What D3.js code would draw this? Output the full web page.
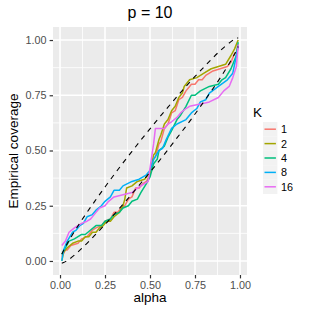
<!DOCTYPE html>
<html>
<head>
<meta charset="utf-8">
<script src="https://cdn.jsdelivr.net/npm/d3@7"></script>
<style>
  body { margin: 0; background: #fff; }
  svg { display: block; font-family: "Liberation Sans", Arial, sans-serif; }
</style>
</head>
<body>
<div id="chart"></div>
<script>
/* DATA */
const alphaBand = [0.01, 0.02, 0.03, 0.05, 0.10, 0.15, 0.20, 0.25, 0.30, 0.35, 0.40, 0.45, 0.50,
                   0.55, 0.60, 0.65, 0.70, 0.75, 0.80, 0.85, 0.90, 0.95, 0.97, 0.98, 0.99];
const bandUpper = [0.030, 0.047, 0.063, 0.093, 0.159, 0.220, 0.278, 0.335, 0.390, 0.444, 0.496, 0.548, 0.598,
                   0.648, 0.696, 0.744, 0.790, 0.835, 0.878, 0.920, 0.959, 0.993, 1.003, 1.007, 1.010];
const bandLower = [-0.010, -0.007, -0.003, 0.007, 0.041, 0.080, 0.122, 0.165, 0.210, 0.257, 0.304, 0.353, 0.402,
                   0.452, 0.504, 0.557, 0.610, 0.665, 0.722, 0.780, 0.841, 0.907, 0.937, 0.953, 0.971];

const kLevels = ["1", "2", "4", "8", "16"];
const kColors = ["#F8766D", "#A3A500", "#00BF7D", "#00B0F6", "#E76BF3"];

// empirical coverage per K, [alpha, coverage]
const coverK1 = [[0.01,0.02],[0.03,0.05],[0.04,0.05],[0.06,0.07],[0.10,0.08],[0.12,0.10],[0.15,0.11],
  [0.18,0.14],[0.20,0.15],[0.23,0.16],[0.25,0.18],[0.28,0.19],[0.30,0.22],[0.32,0.22],[0.34,0.24],
  [0.36,0.25],[0.38,0.28],[0.40,0.29],[0.42,0.33],[0.44,0.33],[0.46,0.35],[0.48,0.36],[0.50,0.39],
  [0.52,0.46],[0.53,0.47],[0.55,0.53],[0.56,0.54],[0.58,0.60],[0.60,0.62],[0.62,0.67],[0.64,0.68],
  [0.66,0.73],[0.68,0.74],[0.70,0.77],[0.73,0.80],[0.75,0.80],[0.77,0.82],[0.79,0.82],[0.81,0.84],
  [0.85,0.86],[0.89,0.87],[0.93,0.88],[0.95,0.90],[0.97,0.94],[0.98,0.94],[0.99,0.98]];
const coverK2 = [[0.01,0.00],[0.02,0.04],[0.04,0.06],[0.07,0.08],[0.10,0.09],[0.12,0.09],[0.14,0.11],
  [0.16,0.11],[0.18,0.13],[0.20,0.13],[0.22,0.15],[0.24,0.16],[0.26,0.18],[0.28,0.18],[0.30,0.20],
  [0.33,0.22],[0.35,0.25],[0.36,0.28],[0.37,0.33],[0.40,0.34],[0.43,0.36],[0.47,0.37],[0.50,0.40],
  [0.52,0.48],[0.53,0.49],[0.55,0.55],[0.56,0.57],[0.58,0.62],[0.60,0.64],[0.62,0.68],[0.64,0.70],
  [0.66,0.74],[0.68,0.76],[0.69,0.79],[0.72,0.82],[0.76,0.83],[0.80,0.85],[0.84,0.87],[0.88,0.88],
  [0.92,0.89],[0.95,0.93],[0.97,0.96],[0.99,1.00]];
const coverK4 = [[0.01,0.03],[0.03,0.06],[0.05,0.09],[0.08,0.10],[0.12,0.12],[0.14,0.12],[0.17,0.14],
  [0.20,0.16],[0.23,0.16],[0.25,0.18],[0.28,0.19],[0.30,0.21],[0.33,0.22],[0.35,0.24],[0.38,0.25],
  [0.40,0.27],[0.43,0.28],[0.45,0.31],[0.48,0.35],[0.50,0.38],[0.52,0.44],[0.54,0.46],[0.55,0.50],
  [0.58,0.52],[0.60,0.56],[0.62,0.59],[0.65,0.64],[0.67,0.66],[0.70,0.70],[0.73,0.75],[0.75,0.75],
  [0.78,0.77],[0.83,0.79],[0.88,0.80],[0.90,0.82],[0.92,0.83],[0.95,0.87],[0.98,0.93],[0.99,0.99]];
const coverK8 = [[0.01,0.00],[0.02,0.05],[0.04,0.09],[0.07,0.13],[0.09,0.14],[0.11,0.16],[0.13,0.17],
  [0.15,0.20],[0.18,0.21],[0.20,0.23],[0.23,0.25],[0.25,0.27],[0.28,0.29],[0.30,0.32],[0.33,0.32],
  [0.35,0.34],[0.40,0.36],[0.44,0.37],[0.48,0.39],[0.50,0.41],[0.52,0.46],[0.55,0.50],[0.57,0.51],
  [0.59,0.55],[0.62,0.60],[0.65,0.62],[0.70,0.64],[0.73,0.67],[0.76,0.69],[0.78,0.72],[0.81,0.73],
  [0.83,0.76],[0.88,0.79],[0.93,0.82],[0.96,0.85],[0.98,0.93],[0.99,0.97]];
const coverK16 = [[0.01,0.07],[0.03,0.09],[0.05,0.13],[0.08,0.15],[0.12,0.17],[0.15,0.18],[0.17,0.19],
  [0.20,0.22],[0.22,0.24],[0.25,0.25],[0.27,0.27],[0.30,0.29],[0.35,0.30],[0.40,0.31],[0.43,0.33],
  [0.45,0.34],[0.49,0.36],[0.50,0.42],[0.52,0.53],[0.53,0.60],[0.58,0.60],[0.60,0.62],[0.62,0.63],
  [0.65,0.65],[0.67,0.67],[0.70,0.69],[0.72,0.70],[0.78,0.71],[0.83,0.72],[0.88,0.74],[0.91,0.77],
  [0.94,0.79],[0.96,0.83],[0.98,0.88],[0.99,0.98]];
const coverSeries = [coverK1, coverK2, coverK4, coverK8, coverK16];

const xTicks = [0, 0.25, 0.5, 0.75, 1];
const yTicks = [0, 0.25, 0.5, 0.75, 1];
const minorTicks = [0.125, 0.375, 0.625, 0.875];

/* LAYOUT */
const width = 315, height = 315;
const panel = { left: 53, right: 247, top: 27, bottom: 275 };

const svg = d3.select("#chart").append("svg")
    .attr("width", width)
    .attr("height", height);

const x = d3.scaleLinear().domain([-0.039, 1.039]).range([panel.left, panel.right]);
const y = d3.scaleLinear().domain([-0.0635, 1.059]).range([panel.bottom, panel.top]);

// panel background + grid
svg.append("rect")
    .attr("x", panel.left).attr("y", panel.top)
    .attr("width", panel.right - panel.left)
    .attr("height", panel.bottom - panel.top)
    .attr("fill", "#EBEBEB");

svg.append("clipPath").attr("id", "clip")
  .append("rect")
    .attr("x", panel.left).attr("y", panel.top)
    .attr("width", panel.right - panel.left)
    .attr("height", panel.bottom - panel.top);

const grid = svg.append("g").attr("stroke", "#fff");
minorTicks.forEach(t => {
    grid.append("line").attr("x1", x(t)).attr("x2", x(t))
        .attr("y1", panel.top).attr("y2", panel.bottom).attr("stroke-width", 0.8);
    grid.append("line").attr("y1", y(t)).attr("y2", y(t))
        .attr("x1", panel.left).attr("x2", panel.right).attr("stroke-width", 0.8);
});
xTicks.forEach(t => {
    grid.append("line").attr("x1", x(t)).attr("x2", x(t))
        .attr("y1", panel.top).attr("y2", panel.bottom).attr("stroke-width", 1.6);
});
yTicks.forEach(t => {
    grid.append("line").attr("y1", y(t)).attr("y2", y(t))
        .attr("x1", panel.left).attr("x2", panel.right).attr("stroke-width", 1.6);
});

const plot = svg.append("g").attr("clip-path", "url(#clip)");

// coverage lines
const covLine = d3.line()
    .x(d => x(d[0]))
    .y(d => y(d[1]));

coverSeries.forEach((s, i) => {
    plot.append("path")
        .datum(s)
        .attr("d", covLine)
        .attr("fill", "none")
        .attr("stroke", kColors[i])
        .attr("stroke-width", 1.5)
        .attr("stroke-linejoin", "round");
});

// confidence band
const bandLine = vals => d3.line()
    .x((d, i) => x(alphaBand[i]))
    .y(d => y(d))
    .curve(d3.curveCatmullRom)(vals);

[bandUpper, bandLower].forEach(vals => {
    plot.append("path")
        .attr("d", bandLine(vals))
        .attr("fill", "none")
        .attr("stroke", "#000")
        .attr("stroke-width", 1.1)
        .attr("stroke-dasharray", "5,5");
});

// axes
const fmt = d3.format(".2f");
const xAxis = svg.append("g")
    .attr("transform", `translate(0,${panel.bottom})`)
    .call(d3.axisBottom(x).tickValues(xTicks).tickFormat(fmt).tickSize(3.4).tickPadding(3));
const yAxis = svg.append("g")
    .attr("transform", `translate(${panel.left},0)`)
    .call(d3.axisLeft(y).tickValues(yTicks).tickFormat(fmt).tickSize(3.4).tickPadding(3));

[xAxis, yAxis].forEach(ax => {
    ax.select(".domain").remove();
    ax.selectAll(".tick line").attr("stroke", "#333").attr("stroke-width", 1.2);
    ax.selectAll(".tick text")
        .attr("fill", "#4D4D4D")
        .style("font-size", "10.8px")
        .style("font-family", "'Liberation Sans', Arial, sans-serif");
});

// titles
svg.append("text")
    .attr("x", (panel.left + panel.right) / 2)
    .attr("y", 18)
    .attr("text-anchor", "middle")
    .style("font-size", "16px")
    .text("p = 10");

svg.append("text")
    .attr("x", (panel.left + panel.right) / 2)
    .attr("y", 302)
    .attr("text-anchor", "middle")
    .style("font-size", "13.5px")
    .text("alpha");

svg.append("text")
    .attr("transform", `translate(18,${(panel.top + panel.bottom) / 2}) rotate(-90)`)
    .attr("text-anchor", "middle")
    .style("font-size", "13.5px")
    .text("Empirical coverage");

// legend
const legend = svg.append("g").attr("transform", "translate(263,122)");
legend.append("text")
    .attr("x", -10).attr("y", -5)
    .style("font-size", "13.5px")
    .text("K");

const keySize = 14.4;
kLevels.forEach((k, i) => {
    const row = legend.append("g").attr("transform", `translate(0,${i * keySize})`);
    row.append("rect")
        .attr("width", keySize).attr("height", keySize)
        .attr("fill", "#F2F2F2");
    row.append("line")
        .attr("x1", 1.5).attr("x2", keySize - 1.5)
        .attr("y1", keySize / 2).attr("y2", keySize / 2)
        .attr("stroke", kColors[i])
        .attr("stroke-width", 1.5);
    row.append("text")
        .attr("x", keySize + 3.5)
        .attr("y", keySize / 2)
        .attr("dominant-baseline", "central")
        .style("font-size", "10.8px")
        .text(k);
});
</script>
</body>
</html>
